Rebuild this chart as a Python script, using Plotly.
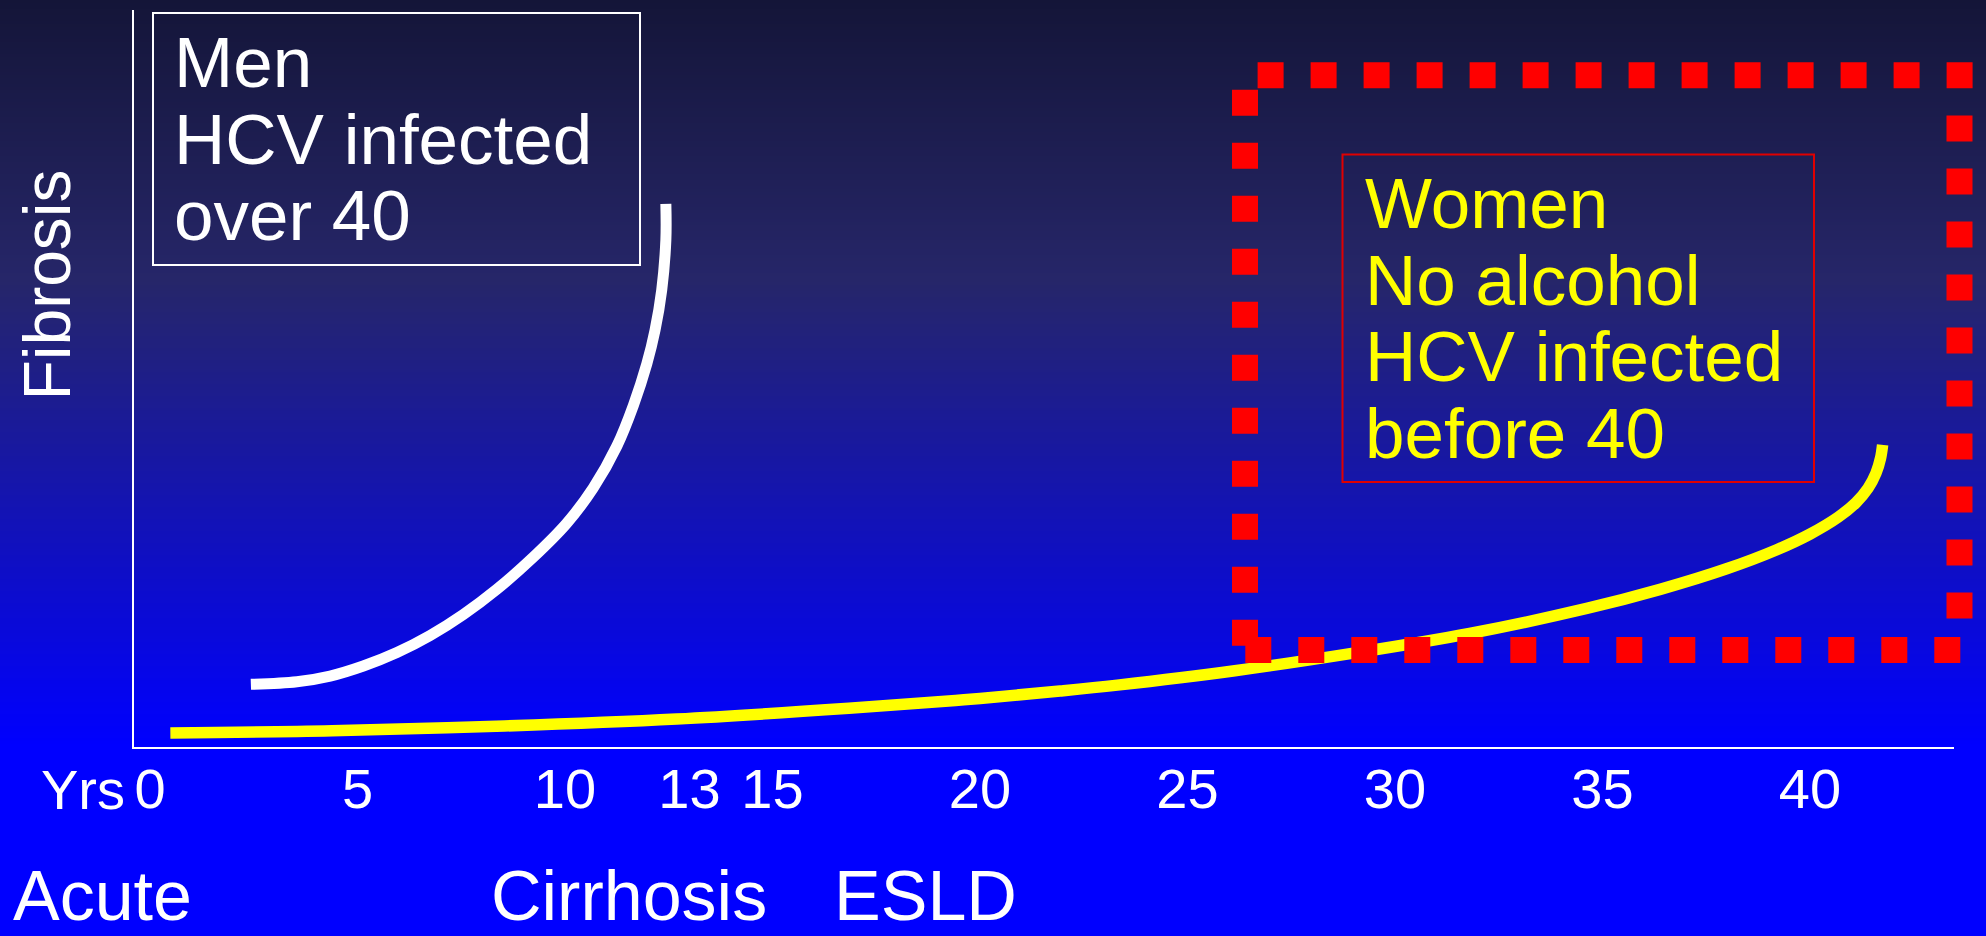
import plotly.graph_objects as go

# Relative fibrosis score versus years since HCV infection
men_years = [2.43, 3.54, 4.34, 5.14, 5.95, 6.75, 7.55, 8.35, 9.24, 10.04,
             10.68, 11.25, 11.65, 11.97, 12.17, 12.33, 12.43, 12.43]
men_fibrosis = [8.5, 8.86, 9.63, 10.99, 12.82, 15.13, 17.98, 21.37, 25.78,
                30.35, 35.14, 40.84, 46.4, 51.97, 56.58, 62.0, 68.8, 73.7]

women_years = [0.49, 4.39, 8.54, 12.69, 16.84, 19.61, 21.93, 23.31, 26.14,
               28.96, 31.8, 34.62, 36.39, 37.99, 39.2, 40.0, 40.68, 41.11,
               41.4, 41.59, 41.7, 41.75]
women_fibrosis = [1.9, 2.2, 2.85, 3.8, 5.25, 6.4, 7.6, 8.4, 10.35,
                  12.7, 15.4, 18.8, 21.39, 24.18, 26.77, 28.89, 31.19, 33.17,
                  35.12, 37.16, 39.2, 41.0]

tick_years = [0, 5, 10, 13, 15, 20, 25, 30, 35, 40]
tick_labels = ["0", "5", "10", "13", "15", "20", "25", "30", "35", "40"]

stage_labels = ["Acute", "Cirrhosis", "ESLD"]
men_lines = ["Men", "HCV infected", "over 40"]
women_lines = ["Women", "No alcohol", "HCV infected", "before 40"]

FONT = "Liberation Sans, Arial, Helvetica, sans-serif"

# Canvas and plot-area geometry (pixels)
W, H = 1986, 936
L, R, T, B = 134, 32, 10, 189
PW = W - L - R
PH = H - T - B


def px(x):
    """Pixel column -> paper x."""
    return (x - L) / PW


def py(y):
    """Pixel row (from top) -> paper y."""
    return (H - B - y) / PH


def lerp_color(y):
    stops = [(0, (20, 21, 56)), (280, (38, 38, 105)), (745, (0, 0, 255))]
    if y >= stops[-1][0]:
        return stops[-1][1]
    for (y0, c0), (y1, c1) in zip(stops[:-1], stops[1:]):
        if y0 <= y <= y1:
            f = (y - y0) / (y1 - y0)
            return tuple(round(a + (b - a) * f) for a, b in zip(c0, c1))
    return stops[0][1]


shapes = []

# Slide background: dark navy at the top fading to bright blue
step = 3
for y in range(0, H - B, step):
    r, g, b = lerp_color(y + step / 2)
    shapes.append(dict(type="rect", xref="paper", yref="paper",
                       x0=px(0), x1=px(W), y0=py(y), y1=py(y + step + 0.5),
                       fillcolor=f"rgb({r},{g},{b})", line=dict(width=0),
                       layer="below"))

# Text frames
shapes.append(dict(type="rect", xref="paper", yref="paper",
                   x0=px(153), x1=px(640), y0=py(13), y1=py(265),
                   line=dict(color="white", width=2), fillcolor="rgba(0,0,0,0)"))
shapes.append(dict(type="rect", xref="paper", yref="paper",
                   x0=px(1342.5), x1=px(1814), y0=py(154.5), y1=py(482),
                   line=dict(color="#e00000", width=2), fillcolor="rgba(0,0,0,0)"))

# Dotted red highlight around the late-stage region
red_dots = dict(color="#ff0000", width=26, dash="26px,27px")
for (xa, ya, xb, yb) in [(1257.6, 75.3, 1975, 75.3),
                         (1245, 89.8, 1245, 650),
                         (1245.3, 650, 1975, 650),
                         (1959.5, 115.5, 1959.5, 634)]:
    shapes.append(dict(type="line", xref="paper", yref="paper",
                       x0=px(xa), y0=py(ya), x1=px(xb), y1=py(yb),
                       line=red_dots, layer="above"))

annotations = []


def add_text(text, x, y, size, color="white", xanchor="left", angle=0):
    annotations.append(dict(text=text, xref="paper", yref="paper",
                            x=px(x), y=py(y), xanchor=xanchor, yanchor="middle",
                            showarrow=False, textangle=angle,
                            font=dict(family=FONT, size=size, color=color)))


BOX_SIZE = 71
for i, line in enumerate(men_lines):
    add_text(line, 172, 87.5 + 76.3 * i - 0.3465 * BOX_SIZE, BOX_SIZE)
for i, line in enumerate(women_lines):
    add_text(line, 1363, 228.5 + 76.4 * i - 0.3465 * BOX_SIZE, BOX_SIZE,
             color="#ffff00")

# Axis title and the "Yrs" prefix of the time axis
add_text("Fibrosis", 46, 285.5, 66, xanchor="center", angle=-90)
add_text("Yrs", 127, 789.5, 56, xanchor="right")

# Disease stages under the time axis
STAGE_SIZE = 70
for label, x in zip(stage_labels, [11, 489, 832]):
    add_text(label, x, 920 - 0.3465 * STAGE_SIZE, STAGE_SIZE)

fig = go.Figure()
fig.add_trace(go.Scatter(x=women_years, y=women_fibrosis, mode="lines",
                         line=dict(color="#ffff00", width=11.5, shape="spline",
                                   smoothing=1.0),
                         hoverinfo="skip"))
fig.add_trace(go.Scatter(x=men_years, y=men_fibrosis, mode="lines",
                         line=dict(color="white", width=11, shape="spline",
                                   smoothing=1.0),
                         hoverinfo="skip"))

fig.update_layout(
    width=W, height=H,
    margin=dict(l=L, r=R, t=T, b=B, pad=0),
    paper_bgcolor="#0000ff",
    plot_bgcolor="rgba(0,0,0,0)",
    showlegend=False,
    shapes=shapes,
    annotations=annotations,
    xaxis=dict(range=[-0.386, 43.47], showgrid=False, zeroline=False,
               showline=True, linecolor="white", linewidth=2,
               tickmode="array", tickvals=tick_years, ticktext=tick_labels,
               ticks="", ticklabelstandoff=-8, automargin=False,
               tickfont=dict(family=FONT, size=56, color="white")),
    yaxis=dict(range=[0, 100], showgrid=False, zeroline=False,
               showline=True, linecolor="white", linewidth=2,
               showticklabels=False, ticks="", automargin=False),
)

fig.write_html("out.html", config={"displayModeBar": False})
